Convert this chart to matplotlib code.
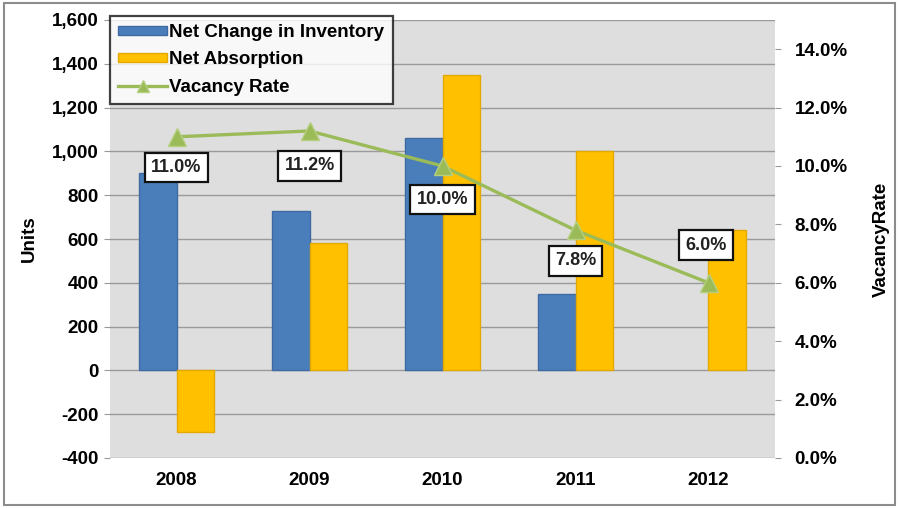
import matplotlib
matplotlib.use("Agg")
import matplotlib.pyplot as plt
from matplotlib.patches import Rectangle
from matplotlib.lines import Line2D
from matplotlib.ticker import FuncFormatter, MultipleLocator
import numpy as np

years = ["2008", "2009", "2010", "2011", "2012"]
net_change_inventory = [900, 730, 1060, 350, 0]
net_absorption = [-280, 580, 1350, 1000, 640]
vacancy_rate = [11.0, 11.2, 10.0, 7.8, 6.0]
vacancy_labels = ["11.0%", "11.2%", "10.0%", "7.8%", "6.0%"]

plt.rcParams['font.family'] = ['Liberation Sans', 'DejaVu Sans']
plt.rcParams['font.weight'] = 'bold'

fig = plt.figure(figsize=(8.99, 5.08), dpi=100)
fig.patch.set_facecolor('white')
# figure frame
fig.patches.append(Rectangle((0.004, 0.006), 0.992, 0.988, transform=fig.transFigure,
                             fill=False, edgecolor='#8c8c8c', linewidth=1.5))

ax = fig.add_axes([110/899, 50/508, 665/899, 438/508])
ax.set_facecolor('#dedede')

x = np.arange(len(years))
w = 0.28
b1 = ax.bar(x - w/2, net_change_inventory, width=w, color='#4a7ebb', edgecolor='#3d6aa3',
            linewidth=1, zorder=3, label='Net Change in Inventory')
b2 = ax.bar(x + w/2, net_absorption, width=w, color='#ffc000', edgecolor='#e3a900',
            linewidth=1, zorder=3, label='Net Absorption')
for bars in (b1, b2):
    for r in bars:
        if r.get_height() == 0:
            r.set_linewidth(0)

ax.set_xlim(-0.5, len(years) - 0.5)
ax.set_ylim(-400, 1600)
ax.yaxis.set_major_locator(MultipleLocator(200))
ax.yaxis.set_major_formatter(FuncFormatter(lambda v, p: f"{int(v):,}"))
ax.grid(axis='y', color='#9a9a9a', linewidth=1, zorder=1)
ax.set_xticks(x)
ax.set_xticklabels(years)
ax.tick_params(axis='x', length=0, pad=10, labelsize=13.5)
ax.tick_params(axis='y', length=4, color='#9a9a9a', labelsize=13.5, pad=4)
for s in ax.spines.values():
    s.set_visible(False)
ax.set_ylabel('Units', fontsize=13.5, fontweight='bold', labelpad=10)

ax2 = ax.twinx()
ax2.set_ylim(0, 15)
ax2.yaxis.set_major_locator(MultipleLocator(2))
ax2.yaxis.set_major_formatter(FuncFormatter(lambda v, p: f"{v:.1f}%"))
ax2.tick_params(axis='y', length=4, color='#9a9a9a', labelsize=13.5, pad=10)
for s in ax2.spines.values():
    s.set_visible(False)
ax2.plot(x, vacancy_rate, color='#9bbb59', linewidth=2.4, marker='^', markersize=13,
         markerfacecolor='#9bbb59', markeredgecolor='#b5cf7f', zorder=5, label='Vacancy Rate')
ax2.set_ylabel('VacancyRate', fontsize=13.5, fontweight='bold', labelpad=18)

offsets = [(0, -22), (0, -25), (0, -24), (0, -22), (-2, 27)]
for xi, yi, lab, off in zip(x, vacancy_rate, vacancy_labels, offsets):
    ax2.annotate(lab, (xi, yi), xytext=off, textcoords='offset points',
                 ha='center', va='center', fontsize=13, fontweight='bold', color='#222222',
                 bbox=dict(boxstyle='square,pad=0.35', facecolor='white', edgecolor='#111111',
                           linewidth=1.6), zorder=10)

handles = [Rectangle((0, 0), 1, 1, facecolor='#4a7ebb', edgecolor='#3d6aa3'),
           Rectangle((0, 0), 1, 1, facecolor='#ffc000', edgecolor='#e3a900'),
           Line2D([], [], color='#9bbb59', linewidth=2.4, marker='^', markersize=9,
                  markerfacecolor='#9bbb59', markeredgecolor='#b5cf7f')]
labels = ['Net Change in Inventory', 'Net Absorption', 'Vacancy Rate']
leg = ax2.legend(handles, labels, loc='upper left', bbox_to_anchor=(0.0, 1.01),
                 frameon=True, fancybox=False, fontsize=13.5, handlelength=2.6,
                 handleheight=0.4, handletextpad=0.1, labelspacing=0.55,
                 borderpad=0.45, borderaxespad=0.0)
leg.get_frame().set_edgecolor('#111111')
leg.get_frame().set_linewidth(1.6)
leg.set_zorder(20)
for t in leg.get_texts():
    t.set_fontweight('bold')

fig.savefig('out.png', dpi=100, facecolor='white')
